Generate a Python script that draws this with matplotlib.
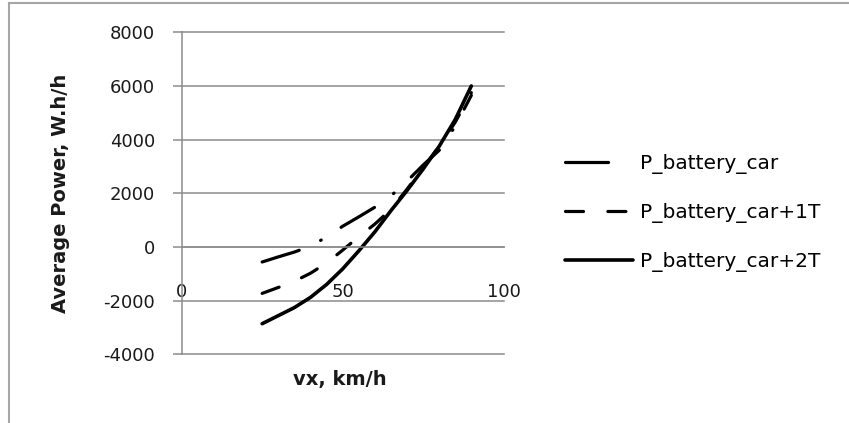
import matplotlib
matplotlib.use("Agg")
import matplotlib.pyplot as plt
from matplotlib.lines import Line2D
from matplotlib.ticker import FixedLocator

# ---- data ----
speed = [25, 30, 35, 40, 45, 50, 55, 60, 65, 70, 75, 80, 85, 90]
p_car = [-560, -370, -190, 30, 370, 770, 1120, 1480, 1900, 2450, 3050, 3600, 4500, 5650]
p_car_1t = [-1730, -1510, -1280, -980, -600, -120, 380, 850, 1400, 2150, 2950, 3750, 4650, 5750]
p_car_2t = [-2860, -2560, -2260, -1880, -1400, -820, -150, 560, 1350, 2100, 2900, 3750, 4750, 6000]
series_labels = ["P_battery_car", "P_battery_car+1T", "P_battery_car+2T"]
x_ticks = [0, 50, 100]
y_ticks = [-4000, -2000, 0, 2000, 4000, 6000, 8000]
x_title = "vx, km/h"
y_title = "Average Power, W.h/h"

plt.rcParams['font.family'] = ['DejaVu Sans']
plt.rcParams['lines.scale_dashes'] = False

W, H = 849, 423
fig = plt.figure(figsize=(W / 100, H / 100), dpi=100)

# outer chart-area border (top and left edges visible only)
border_c = '#a6a6a6'
fig.add_artist(Line2D([8.5 / W, 1.0], [1 - 3.5 / H, 1 - 3.5 / H], transform=fig.transFigure,
                      color=border_c, linewidth=1.5, solid_capstyle='projecting'))
fig.add_artist(Line2D([8.5 / W, 8.5 / W], [0.0, 1 - 3.5 / H], transform=fig.transFigure,
                      color=border_c, linewidth=1.5, solid_capstyle='projecting'))

left, right = 181.7, 503.5
top, bottom = 32.3, 354.3
ax = fig.add_axes([left / W, 1 - bottom / H, (right - left) / W, (bottom - top) / H])

grid_c = '#8c8c8c'
lw = 2.3

car_dash = (28, 17, 0.5, 17)
l1, = ax.plot(speed, p_car, color='black', lw=lw, dash_capstyle='round',
              solid_capstyle='round', label=series_labels[0])
l1.set_dashes(car_dash)
l2, = ax.plot(speed, p_car_1t, color='black', lw=lw, dash_capstyle='round',
              solid_capstyle='round', label=series_labels[1])
l2.set_dashes((13, 17.5))
l3, = ax.plot(speed, p_car_2t, color='black', lw=lw + 0.3, solid_capstyle='round',
              label=series_labels[2])

ax.set_xlim(0, 100)
ax.set_ylim(-4000, 8000)

ax.spines['top'].set_visible(False)
ax.spines['right'].set_visible(False)
ax.spines['bottom'].set_position(('data', 0))
for s in ('left', 'bottom'):
    ax.spines[s].set_color(grid_c)
    ax.spines[s].set_linewidth(1.1)

ax.set_yticks(y_ticks)
ax.set_yticklabels([str(v) for v in y_ticks])
ax.set_xticks(x_ticks)
ax.set_xticklabels([str(v) for v in x_ticks])
ax.xaxis.set_minor_locator(FixedLocator([100]))

ax.tick_params(axis='y', which='major', length=6.5, width=1.1, color=grid_c,
               direction='out', pad=12.5, labelsize=13, labelcolor='#1a1a1a')
ax.tick_params(axis='x', which='major', length=0, pad=26, labelsize=13,
               labelcolor='#1a1a1a')
ax.tick_params(axis='x', which='minor', length=5, width=1.1, color=grid_c,
               direction='out')

ax.yaxis.grid(True, color=grid_c, linewidth=1.1)
ax.set_axisbelow(True)
for gl in ax.get_ygridlines():
    gl.set_clip_on(False)

fig.text(340 / W, 1 - 385 / H, x_title, ha='center', va='baseline',
         fontsize=14, fontweight='bold', color='#1a1a1a')
fig.text(60 / W, 1 - 193 / H, y_title, ha='center', va='center', rotation=90,
         fontsize=14, fontweight='bold', color='#1a1a1a')

# legend sample for the first series shows only its first dash (as in the reference)
h1 = Line2D([], [], color='black', lw=lw, dash_capstyle='round')
h1.set_dashes((car_dash[0] + 3, 200))
fig.legend(handles=[h1, l2, l3], labels=series_labels, loc='center left',
           bbox_to_anchor=(565 / W, 1 - 213 / H), bbox_transform=fig.transFigure,
           frameon=False, fontsize=14.5, borderpad=0, borderaxespad=0,
           handlelength=3.38, handletextpad=0.32, labelspacing=1.46)

fig.savefig("out.png", dpi=100)
